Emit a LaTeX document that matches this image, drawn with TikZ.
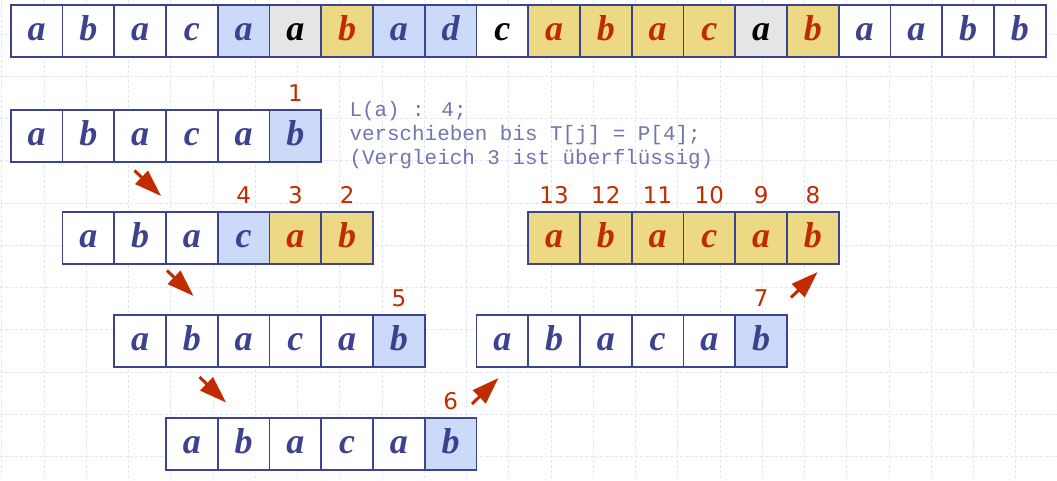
\documentclass[tikz,border=0pt]{standalone}
\usepackage{fontspec}
\usetikzlibrary{arrows.meta}
\newfontfamily\letterfont{Liberation Serif}
\newfontfamily\numfont{DejaVu Sans}
\newfontfamily\monofont{Liberation Mono}
\definecolor{cborder}{HTML}{3C4490}
\definecolor{lblue}{HTML}{3D4290}
\definecolor{lred}{HTML}{C02C00}
\definecolor{fblue}{HTML}{CCDAFA}
\definecolor{fyel}{HTML}{EDD884}
\definecolor{fgray}{HTML}{E5E5E5}
\definecolor{gridc}{HTML}{E0E6F8}
\definecolor{monoc}{HTML}{7276AE}
\begin{document}
\begin{tikzpicture}[x=1pt,y=-1pt,
  cellbox/.style={draw=cborder, line width=1.8pt, minimum width=51.75pt, minimum height=51.75pt,
    inner sep=0pt, anchor=north west, text height=21.5pt, text depth=2.5pt,
    font=\letterfont\bfseries\itshape\fontsize{36}{36}\selectfont},
  numlabel/.style={anchor=base, inner sep=0pt, text=lred, font=\numfont\fontsize{23}{23}\selectfont},
  monotext/.style={anchor=base west, inner sep=0pt, text=monoc, font=\monofont\fontsize{20.9}{23.7}\selectfont},
  redarrow/.style={draw=lred, line width=3pt, -{Triangle[length=27pt 0,width=18pt 0]}, fill=lred},
  gridline/.style={draw=gridc, line width=0.8pt, dash pattern=on 3pt off 2pt}]
\useasboundingbox (0,0) rectangle (1057,480);
\fill[white] (0,0) rectangle (1057,480);
% background grid
\foreach \k in {0,...,24} \draw[gridline] ({1.7+42.25*\k},0) -- ({1.7+42.25*\k},480);
\foreach \k in {0,...,10} \draw[gridline] (0,{33.9+42.25*\k}) -- (1057,{33.9+42.25*\k});
\def\cw{51.75}
% text row T
\foreach \i/\l/\f/\c in {0/a/white/lblue,1/b/white/lblue,2/a/white/lblue,3/c/white/lblue,
  4/a/fblue/lblue,5/a/fgray/black,6/b/fyel/lred,7/a/fblue/lblue,8/d/fblue/lblue,9/c/white/black,
  10/a/fyel/lred,11/b/fyel/lred,12/a/fyel/lred,13/c/fyel/lred,14/a/fgray/black,15/b/fyel/lred,
  16/a/white/lblue,17/a/white/lblue,18/b/white/lblue,19/b/white/lblue}
  \node[cellbox, fill=\f, text=\c] (t\i) at ({9.8+\i*\cw},4) {\l};
% pattern row 1 (offset 0)
\foreach \i/\l/\f/\c in {0/a/white/lblue,1/b/white/lblue,2/a/white/lblue,3/c/white/lblue,4/a/white/lblue,5/b/fblue/lblue}
  \node[cellbox, fill=\f, text=\c] (pa\i) at ({9.8+\i*\cw},109) {\l};
% pattern row 2 (offset 1)
\foreach \i/\l/\f/\c in {0/a/white/lblue,1/b/white/lblue,2/a/white/lblue,3/c/fblue/lblue,4/a/fyel/lred,5/b/fyel/lred}
  \node[cellbox, fill=\f, text=\c] (pb\i) at ({9.8+(\i+1)*\cw},211) {\l};
% pattern row 3 (offset 2)
\foreach \i/\l/\f/\c in {0/a/white/lblue,1/b/white/lblue,2/a/white/lblue,3/c/white/lblue,4/a/white/lblue,5/b/fblue/lblue}
  \node[cellbox, fill=\f, text=\c] (pc\i) at ({9.8+(\i+2)*\cw},314) {\l};
% pattern row 4 (offset 3)
\foreach \i/\l/\f/\c in {0/a/white/lblue,1/b/white/lblue,2/a/white/lblue,3/c/white/lblue,4/a/white/lblue,5/b/fblue/lblue}
  \node[cellbox, fill=\f, text=\c] (pd\i) at ({9.8+(\i+3)*\cw},417) {\l};
% pattern row 5 (offset 9)
\foreach \i/\l/\f/\c in {0/a/white/lblue,1/b/white/lblue,2/a/white/lblue,3/c/white/lblue,4/a/white/lblue,5/b/fblue/lblue}
  \node[cellbox, fill=\f, text=\c] (pe\i) at ({9.8+(\i+9)*\cw},314) {\l};
% pattern row 6 (offset 10)
\foreach \i/\l in {0/a,1/b,2/a,3/c,4/a,5/b}
  \node[cellbox, fill=fyel, text=lred] (pf\i) at ({9.8+(\i+10)*\cw},211) {\l};
% comparison numbers
\node[numlabel] (n1) at ([yshift=7.4pt]pa5.north) {1};
\node[numlabel] (n2) at ([yshift=7.4pt]pb5.north) {2};
\node[numlabel] (n3) at ([yshift=7.4pt]pb4.north) {3};
\node[numlabel] (n4) at ([yshift=7.4pt]pb3.north) {4};
\node[numlabel] (n5) at ([yshift=7.4pt]pc5.north) {5};
\node[numlabel] (n6) at ([yshift=7.4pt]pd5.north) {6};
\node[numlabel] (n7) at ([yshift=7.4pt]pe5.north) {7};
\node[numlabel] (n8) at ([yshift=7.4pt]pf5.north) {8};
\node[numlabel] (n9) at ([yshift=7.4pt]pf4.north) {9};
\node[numlabel] (n10) at ([yshift=7.4pt]pf3.north) {10};
\node[numlabel] (n11) at ([yshift=7.4pt]pf2.north) {11};
\node[numlabel] (n12) at ([yshift=7.4pt]pf1.north) {12};
\node[numlabel] (n13) at ([yshift=7.4pt]pf0.north) {13};
% explanation text
\node[monotext] (txt1) at (349.3,116.7) {L(a) : 4;};
\node[monotext] (txt2) at (349.3,140.5) {verschieben bis T[j] = P[4];};
\node[monotext] (txt3) at (349.3,164.2) {(Vergleich 3 ist überflüssig)};
% arrows
\coordinate (a1s) at (134.5,170.5); \coordinate (a1e) at (161,196);
\coordinate (a2s) at (167,270.5); \coordinate (a2e) at (193.5,296);
\coordinate (a3s) at (199.5,377); \coordinate (a3e) at (226,402.5);
\coordinate (a4s) at (472,404); \coordinate (a4e) at (498.5,378);
\coordinate (a5s) at (791,297.5); \coordinate (a5e) at (817.7,272);
\draw[redarrow] (a1s) -- (a1e);
\draw[redarrow] (a2s) -- (a2e);
\draw[redarrow] (a3s) -- (a3e);
\draw[redarrow] (a4s) -- (a4e);
\draw[redarrow] (a5s) -- (a5e);
\end{tikzpicture}
\end{document}
